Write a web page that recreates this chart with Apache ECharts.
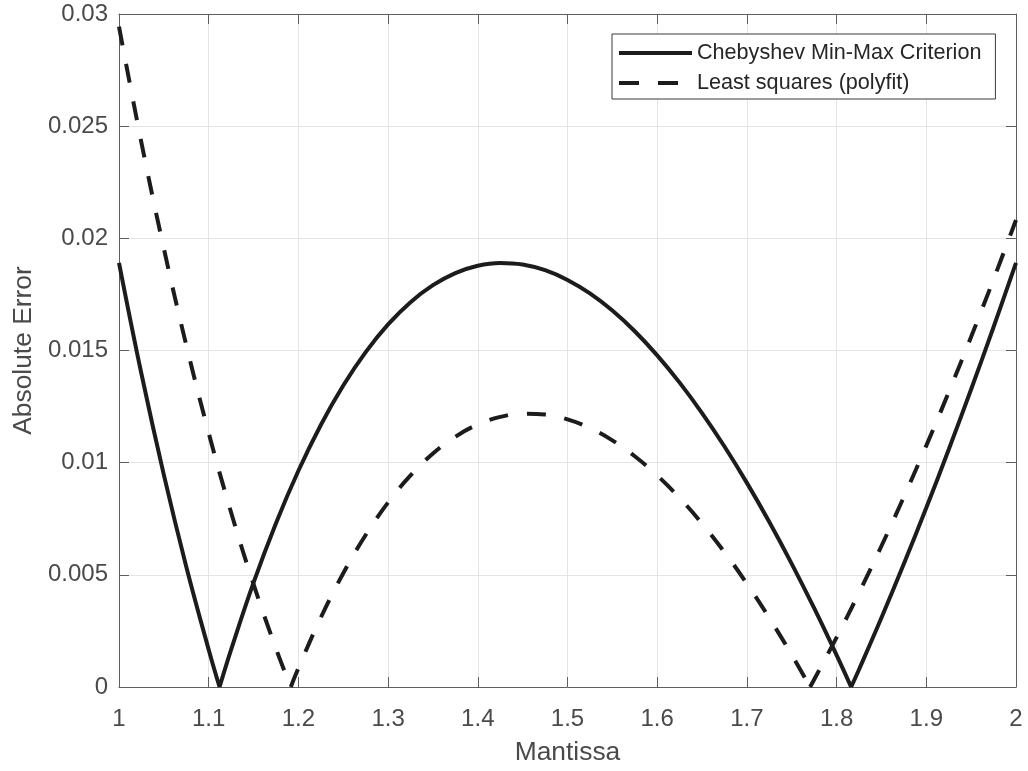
<!DOCTYPE html>
<html>
<head>
<meta charset="utf-8">
<script src="https://cdn.jsdelivr.net/npm/echarts@6/dist/echarts.min.js"></script>
<style>
  html, body { margin: 0; padding: 0; background: #ffffff; }
  #chart { width: 1028px; height: 771px; }
</style>
</head>
<body>
<div id="chart"></div>
<script>
// Absolute error of two linear fits of 1/sqrt(x) over the mantissa range [1, 2]
const xTicks = [1, 1.1, 1.2, 1.3, 1.4, 1.5, 1.6, 1.7, 1.8, 1.9, 2];
const xTickLabels = ['1', '1.1', '1.2', '1.3', '1.4', '1.5', '1.6', '1.7', '1.8', '1.9', '2'];
const yTicks = [0, 0.005, 0.01, 0.015, 0.02, 0.025, 0.03];
const yTickLabels = ['0', '0.005', '0.01', '0.015', '0.02', '0.025', '0.03'];

const seriesNames = ['Chebyshev Min-Max Criterion', 'Least squares (polyfit)'];

const chebX = [1, 1.025, 1.05, 1.075, 1.1, 1.1121, 1.125, 1.15, 1.175, 1.2, 1.225, 1.25,
  1.275, 1.3, 1.325, 1.35, 1.375, 1.4, 1.425, 1.45, 1.475, 1.5, 1.525, 1.55, 1.575, 1.6,
  1.625, 1.65, 1.675, 1.7, 1.725, 1.75, 1.775, 1.8, 1.8162, 1.825, 1.85, 1.875, 1.9,
  1.925, 1.95, 1.975, 2];
const chebY = [0.018910, 0.013962, 0.009455, 0.005363, 0.001662, 0, 0.001669, 0.004651,
  0.007303, 0.009640, 0.011681, 0.013440, 0.014929, 0.016164, 0.017156, 0.017914,
  0.018452, 0.018779, 0.018902, 0.018833, 0.018579, 0.018146, 0.017545, 0.016780,
  0.015857, 0.014785, 0.013567, 0.012210, 0.010720, 0.009100, 0.007355, 0.005491,
  0.003511, 0.001419, 0, 0.000780, 0.003084, 0.005489, 0.007990, 0.010586, 0.013274,
  0.016049, 0.018910];

const lsX = [1, 1.025, 1.05, 1.075, 1.1, 1.125, 1.15, 1.175, 1.1915, 1.2, 1.225, 1.25,
  1.275, 1.3, 1.325, 1.35, 1.375, 1.4, 1.425, 1.45, 1.475, 1.5, 1.525, 1.55, 1.575, 1.6,
  1.625, 1.65, 1.675, 1.7, 1.725, 1.75, 1.7704, 1.775, 1.8, 1.825, 1.85, 1.875, 1.9,
  1.925, 1.95, 1.975, 2];
const lsY = [0.029433, 0.024270, 0.019547, 0.015240, 0.011324, 0.007777, 0.004580,
  0.001713, 0, 0.000840, 0.003096, 0.005070, 0.006775, 0.008225, 0.009432, 0.010406,
  0.011159, 0.011701, 0.012040, 0.012186, 0.012147, 0.011930, 0.011544, 0.010995,
  0.010287, 0.009430, 0.008428, 0.007286, 0.006011, 0.004607, 0.003077, 0.001428, 0,
  0.000336, 0.002213, 0.004197, 0.006285, 0.008475, 0.010760, 0.013141, 0.015614,
  0.018173, 0.020819];

const FONT = '"Liberation Sans", Arial, Helvetica, sans-serif';
const AXIS_COLOR = '#5e5e5e';
const TEXT_COLOR = '#4a4a4a';
const LINE_COLOR = '#1c1c1c';

// Each error curve is a chain of smooth arcs meeting at sharp zeros:
// break the polyline at interior zeros so every arc is smoothed on its own.
function arcs(xs, ys) {
  const out = [];
  xs.forEach((x, i) => {
    out.push([x, ys[i]]);
    if (ys[i] === 0 && i > 0 && i < xs.length - 1) {
      out.push([x, '-']);
      out.push([x, ys[i]]);
    }
  });
  return out;
}
function tickLabel(ticks, labels) {
  return (v) => {
    const i = ticks.findIndex((t) => Math.abs(t - v) < 1e-9);
    return i >= 0 ? labels[i] : '';
  };
}

const xRange = { min: xTicks[0], max: xTicks[xTicks.length - 1], interval: 0.1 };
const yRange = { min: yTicks[0], max: yTicks[yTicks.length - 1], interval: 0.005 };

const boxLine = { show: true, onZero: false, lineStyle: { color: AXIS_COLOR, width: 1 } };
const innerTick = { show: true, inside: true, length: 10, lineStyle: { color: AXIS_COLOR, width: 1 } };

// Legend keys: a solid bar and two dashes, 73 px wide and 4 px thick
const solidKey = 'path://M0,0H73V4H0Z';
const dashedKey = 'path://M0,0H20V4H0Z M39,0H59V4H39Z M72.99,0H73V0.01H72.99Z';

const chart = echarts.init(document.getElementById('chart'), null, { renderer: 'canvas' });
chart.setOption({
  animation: false,
  backgroundColor: '#ffffff',
  textStyle: { fontFamily: FONT },
  grid: { left: 119, top: 14, width: 897, height: 677, containLabel: false },
  legend: {
    left: 612,
    top: 34,
    orient: 'vertical',
    data: [
      { name: seriesNames[0], icon: solidKey },
      { name: seriesNames[1], icon: dashedKey }
    ],
    backgroundColor: '#ffffff',
    borderColor: '#3a3a3a',
    borderWidth: 1,
    borderRadius: 0,
    padding: [4, 14, 1, 7],
    itemWidth: 73,
    itemHeight: 4,
    itemGap: 0,
    itemStyle: { color: LINE_COLOR, borderWidth: 0 },
    textStyle: { fontSize: 21.6, color: '#262626', fontFamily: FONT, lineHeight: 30 }
  },
  xAxis: [
    {
      type: 'value',
      position: 'bottom',
      ...xRange,
      name: 'Mantissa',
      nameLocation: 'middle',
      nameGap: 53,
      nameTextStyle: { fontSize: 26.4, color: TEXT_COLOR, fontFamily: FONT },
      axisLine: boxLine,
      axisTick: innerTick,
      axisLabel: {
        margin: 20,
        fontSize: 24,
        color: TEXT_COLOR,
        fontFamily: FONT,
        formatter: tickLabel(xTicks, xTickLabels)
      },
      splitLine: { show: true, lineStyle: { color: '#e4e4e4', width: 1 } }
    },
    {
      type: 'value',
      position: 'top',
      ...xRange,
      axisLine: boxLine,
      axisTick: innerTick,
      axisLabel: { show: false },
      splitLine: { show: false }
    }
  ],
  yAxis: [
    {
      type: 'value',
      position: 'left',
      ...yRange,
      name: 'Absolute Error',
      nameLocation: 'middle',
      nameGap: 80,
      nameTextStyle: { fontSize: 26.4, color: TEXT_COLOR, fontFamily: FONT },
      axisLine: boxLine,
      axisTick: innerTick,
      axisLabel: {
        margin: 11,
        fontSize: 24,
        color: TEXT_COLOR,
        fontFamily: FONT,
        formatter: tickLabel(yTicks, yTickLabels)
      },
      splitLine: { show: true, lineStyle: { color: '#e4e4e4', width: 1 } }
    },
    {
      type: 'value',
      position: 'right',
      ...yRange,
      axisLine: boxLine,
      axisTick: innerTick,
      axisLabel: { show: false },
      splitLine: { show: false }
    }
  ],
  series: [
    {
      name: seriesNames[0],
      type: 'line',
      xAxisIndex: 0,
      yAxisIndex: 0,
      data: arcs(chebX, chebY),
      symbol: 'none',
      smooth: 0.4,
      connectNulls: false,
      lineStyle: { color: LINE_COLOR, width: 4, type: 'solid' },
      itemStyle: { color: LINE_COLOR },
      z: 3
    },
    {
      name: seriesNames[1],
      type: 'line',
      xAxisIndex: 0,
      yAxisIndex: 0,
      data: arcs(lsX, lsY),
      symbol: 'none',
      smooth: 0.4,
      connectNulls: false,
      lineStyle: { color: LINE_COLOR, width: 4, type: [19, 19] },
      itemStyle: { color: LINE_COLOR },
      z: 3
    }
  ]
});
</script>
</body>
</html>
